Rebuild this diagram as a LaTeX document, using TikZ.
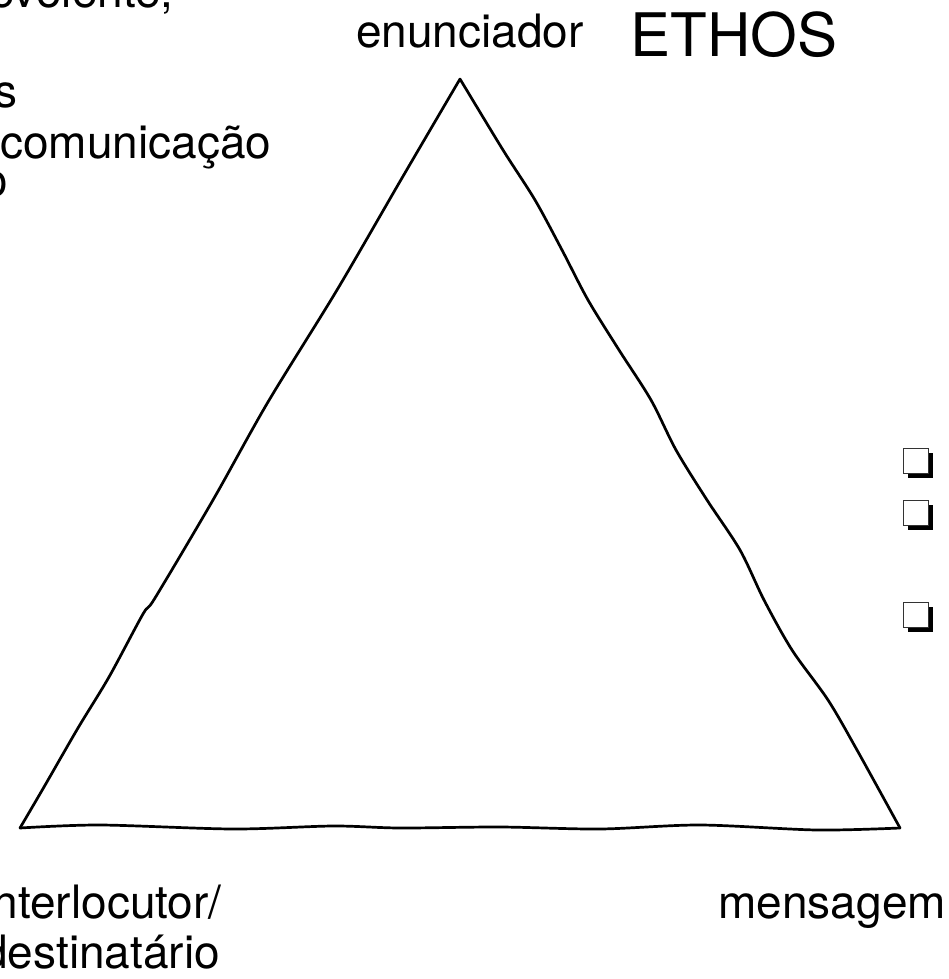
\documentclass[tikz,border=0pt]{standalone}
\usepackage{fontspec}
\setmainfont{TeX Gyre Heros}
\usepackage{xcolor}
\usepackage{tikz}

\tikzset{
    txt/.style={inner sep=0, font=\fontsize{23}{25}\selectfont},
    sketch/.style={line width=1.35pt, line join=round, line cap=round},
    chkbox/.style={rectangle, draw=black!80, fill=white, line width=0.5pt, minimum size=12.5pt, inner sep=0,
        preaction={fill=black, transform canvas={xshift=2.4pt, yshift=-2.4pt}}}
}

\begin{document}
\begin{tikzpicture}[x=0.5pt, y=-0.5pt]
    \useasboundingbox (0,0) rectangle (948,979);
    \clip (0,0) rectangle (948,979);

    \coordinate (apex) at (460,79);
    \coordinate (left) at (20,828);
    \coordinate (right) at (900,828);

    % hand drawn triangle
    \draw[sketch] plot[smooth, tension=0.5] coordinates {(apex) (402,178) (337,290) (268,402) (213,500) (155,598) (143,614) (109,677) (78,728) (44,787) (left)};
    \draw[sketch] plot[smooth, tension=0.5] coordinates {(apex) (503,150) (535,200) (562,250) (588,300) (619,350) (651,400) (676,450) (707,500) (740,550) (764,600) (792,650) (828,700) (857,750) (right)};
    \draw[sketch] plot[smooth, tension=0.5] coordinates {(left) (100,825) (233,829) (333,826) (400,828) (500,827) (600,829) (700,825) (817,830) (right)};

    \node[txt, anchor=base] (enunc) at (470,48) {enunciador};
    \node[txt, anchor=base west, font=\fontsize{30}{32}\selectfont] (ethos) at (630,57) {ETHOS};
    \node[txt, anchor=base west] (msg) at (718,918) {mensagem};
    \node[txt, anchor=base west] (interloc) at (-18,918) {interlocutor/};
    \node[txt, anchor=base west] (destin) at (-18,968) {destinatário};

    \node[txt, anchor=base east] (benev) at (174,8) {benevolente,};
    \node[txt, anchor=base east] (lineb) at (18,107) {s};
    \node[txt, anchor=base west] (comun) at (0,158) {comunicação};
    \node[txt, anchor=base east] (lined) at (8,196) {o};

    \node[chkbox, anchor=north west] (boxa) at (903,448) {};
    \node[chkbox, anchor=north west] (boxb) at (903,500) {};
    \node[chkbox, anchor=north west] (boxc) at (903,602) {};
\end{tikzpicture}
\end{document}
